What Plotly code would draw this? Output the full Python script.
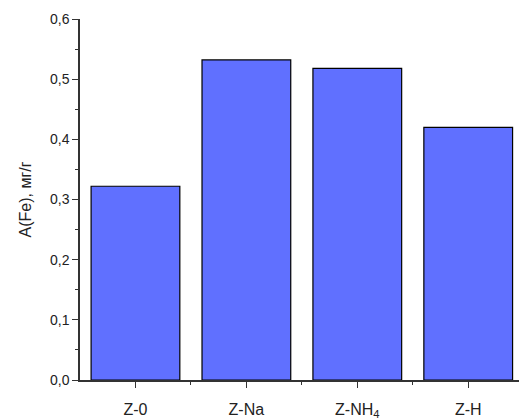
import plotly.graph_objects as go

categories = ["Z-0", "Z-Na", "Z-NH<sub>4</sub>", "Z-H"]
values = [0.322, 0.532, 0.518, 0.420]
y_tick_values = [0.0, 0.1, 0.2, 0.3, 0.4, 0.5, 0.6]
y_tick_labels = ["0,0", "0,1", "0,2", "0,3", "0,4", "0,5", "0,6"]
y_title = "A(Fe), мг/г"

x_pos = list(range(len(categories)))

fig = go.Figure()
fig.add_trace(go.Bar(
    x=x_pos, y=values, width=0.8,
    marker=dict(color="#6070FF", line=dict(color="#000000", width=1.2)),
))

fig.update_layout(
    width=519, height=412,
    margin=dict(l=72, r=0, t=11, b=37),
    paper_bgcolor="white", plot_bgcolor="white",
    font=dict(family="Liberation Sans, Arial, sans-serif", size=14, color="#222"),
    showlegend=False,
    xaxis=dict(
        range=[-0.5, 3.53], tickmode="array", tickvals=x_pos, ticktext=categories,
        showgrid=False, zeroline=False, showline=True, linecolor="#333", linewidth=1.5,
        ticks="outside", ticklen=6, tickwidth=1.3, tickcolor="#333",
        tickfont=dict(size=16), ticklabelstandoff=8,
        minor=dict(tickmode="array", tickvals=[0.5, 1.5, 2.5], ticks="outside", ticklen=3, tickwidth=1.3, tickcolor="#333"),
    ),
    yaxis=dict(
        range=[0, 0.6], tickmode="array", tickvals=y_tick_values, ticktext=y_tick_labels,
        showgrid=False, zeroline=False, showline=True, linecolor="#333", linewidth=1.5,
        ticks="outside", ticklen=6, tickwidth=1.3, tickcolor="#333",
        tickfont=dict(size=14),
        minor=dict(dtick=0.05, ticks="outside", ticklen=3, tickwidth=1.3, tickcolor="#333"),
        title=dict(text=y_title, font=dict(size=16), standoff=14),
    ),
)

fig.write_html("out.html")
